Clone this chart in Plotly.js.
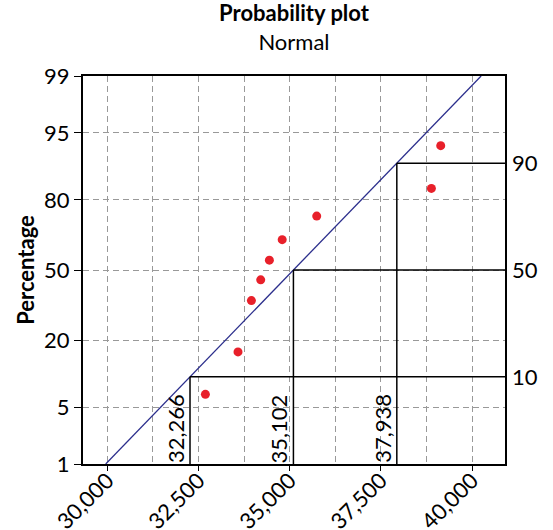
<!DOCTYPE html>
<html>
<head>
<meta charset="utf-8">
<script src="https://cdn.plot.ly/plotly-3.0.1.min.js"></script>
<style>html,body{margin:0;padding:0;background:#fff;}#chart{width:553px;height:530px;}</style>
</head>
<body>
<div id="chart"></div>
<script>
// ---- data ----
const dataValue   = [32688, 33582, 33950, 34205, 34443, 34794, 35741, 38886, 39142];
const dataPercent = [6.8, 16.3, 35.7, 45.3, 54.7, 64.2, 74.1, 83.6, 93.2];
const fitValue    = [29954, 40250];
const fitPercent  = [1, 99];
const refPercent  = [10, 50, 90];
const refValue    = [32266, 35102, 37938];
const yTickPercent = [1, 5, 20, 50, 80, 95, 99];
const xTickValues  = [30000, 32500, 35000, 37500, 40000];
const xRange = [29331, 40905];

// inverse standard normal CDF (Acklam)
function probit(p) {
  const a = [-3.969683028665376e+01, 2.209460984245205e+02, -2.759285104469687e+02, 1.383577518672690e+02, -3.066479806614716e+01, 2.506628277459239e+00];
  const b = [-5.447609879822406e+01, 1.615858368580409e+02, -1.556989798598866e+02, 6.680131188771972e+01, -1.328068155288572e+01];
  const c = [-7.784894002430293e-03, -3.223964580411365e-01, -2.400758277161838e+00, -2.549732539343734e+00, 4.374664141464968e+00, 2.938163982698783e+00];
  const d = [7.784695709041462e-03, 3.224671290700398e-01, 2.445134137142996e+00, 3.754408661907416e+00];
  const pl = 0.02425, ph = 1 - pl;
  let q, r;
  if (p < pl) { q = Math.sqrt(-2 * Math.log(p)); return (((((c[0]*q+c[1])*q+c[2])*q+c[3])*q+c[4])*q+c[5]) / ((((d[0]*q+d[1])*q+d[2])*q+d[3])*q+1); }
  if (p <= ph) { q = p - 0.5; r = q*q; return (((((a[0]*r+a[1])*r+a[2])*r+a[3])*r+a[4])*r+a[5])*q / (((((b[0]*r+b[1])*r+b[2])*r+b[3])*r+b[4])*r+1); }
  q = Math.sqrt(-2 * Math.log(1 - p)); return -(((((c[0]*q+c[1])*q+c[2])*q+c[3])*q+c[4])*q+c[5]) / ((((d[0]*q+d[1])*q+d[2])*q+d[3])*q+1);
}
const z = p => probit(p / 100);
const yRange = [z(1), z(99)];

const FONT = 'Lato, "Open Sans", sans-serif';
const FS = 22;

// reference lines (horizontal to right edge, vertical down to bottom)
const refX = [], refY = [];
refValue.forEach((v, i) => {
  refX.push(v, xRange[1], null, v, v, null);
  refY.push(z(refPercent[i]), z(refPercent[i]), null, z(refPercent[i]), yRange[0], null);
});

const traces = [
  { x: refX, y: refY, yaxis: 'y2', mode: 'lines', line: {color: '#000', width: 1.5}, hoverinfo: 'skip', showlegend: false },
  { x: fitValue, y: fitPercent.map(z), mode: 'lines', line: {color: '#2b2e8c', width: 1.3}, hoverinfo: 'skip', showlegend: false },
  { x: dataValue, y: dataPercent.map(z), mode: 'markers', marker: {color: '#e8202a', size: 9}, showlegend: false }
];

const gridDash = '6px,4px';
const layout = {
  width: 553, height: 530,
  margin: {l: 83, r: 48, t: 76, b: 66},
  paper_bgcolor: '#fff', plot_bgcolor: '#fff',
  font: {family: FONT, size: FS, color: '#000'},
  title: {text: '<b>Probability plot</b><br>Normal', x: 0.5, xref: 'paper', y: 0.96, yanchor: 'top', font: {family: FONT, size: FS, color: '#000'}},
  xaxis: {
    range: xRange, tickvals: xTickValues, tickformat: ',', tickangle: -45,
    ticks: 'outside', ticklen: 5, tickcolor: '#000', ticklabelstandoff: -12,
    showline: true, linecolor: '#000', linewidth: 2, mirror: true,
    showgrid: true, gridcolor: '#999', griddash: gridDash, gridwidth: 1,
    minor: {dtick: 1250, tick0: 30000, showgrid: true, gridcolor: '#999', griddash: gridDash, gridwidth: 1, ticks: ''},
    zeroline: false, tickfont: {family: FONT, size: FS}
  },
  yaxis: {
    range: yRange, tickvals: yTickPercent.map(z), ticktext: yTickPercent.map(String),
    ticks: 'outside', ticklen: 7, tickcolor: '#000',
    showline: true, linecolor: '#000', linewidth: 2, mirror: true,
    showgrid: true, gridcolor: '#999', griddash: gridDash, gridwidth: 1,
    zeroline: false, tickfont: {family: FONT, size: FS},
    title: {text: '<b>Percentage</b>', font: {family: FONT, size: FS}, standoff: 3}
  },
  yaxis2: {
    overlaying: 'y', side: 'right', range: yRange,
    tickvals: refPercent.map(z), ticktext: refPercent.map(String),
    ticks: '', ticklabelstandoff: 6, showgrid: false, zeroline: false, showline: false,
    tickfont: {family: FONT, size: FS}
  },
  annotations: refValue.map(v => ({
    x: v, xref: 'x', y: 0, yref: 'paper', yanchor: 'bottom', xanchor: 'right',
    text: v.toLocaleString('en-US'), textangle: -90, showarrow: false, borderpad: 0,
    xshift: 0, font: {family: FONT, size: FS, color: '#000'}
  }))
};

Plotly.newPlot('chart', traces, layout, {displayModeBar: false, staticPlot: true});
</script>
</body>
</html>
